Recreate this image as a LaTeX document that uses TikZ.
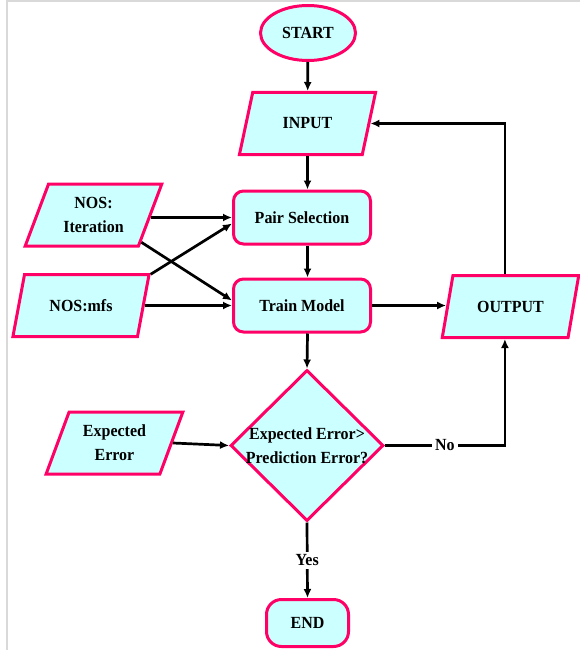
\documentclass[tikz,border=0pt]{standalone}
\usepackage{fontspec}
\setmainfont{Liberation Serif}[FakeStretch=0.94]
\usetikzlibrary{shapes.geometric,arrows.meta,calc}
\definecolor{cfill}{HTML}{CCFFFF}
\definecolor{pline}{HTML}{FF0066}
\definecolor{frame}{HTML}{D9D9D9}
\tikzset{
  base/.style={draw=pline, fill=cfill, line width=3pt, inner sep=2pt,
    font=\fontsize{17}{24}\selectfont\bfseries, align=center},
  io/.style={base, trapezium, trapezium left angle=67, trapezium right angle=113,
    trapezium stretches=true, minimum width=137pt, minimum height=62pt},
  proc/.style={base, rectangle, rounded corners=10pt, minimum width=137pt, minimum height=53pt},
  term/.style={base, ellipse, minimum width=95pt, minimum height=55pt},
  stop/.style={base, rectangle, rounded corners=15pt, minimum width=82pt, minimum height=47pt},
  dia/.style={base, diamond, minimum width=153pt, minimum height=151pt, inner sep=0pt},
  txt/.style={font=\fontsize{17}{24}\selectfont\bfseries, align=center, inner sep=1pt},
  arr/.style={line width=2.7pt, -{Latex[length=9pt,width=8pt]}},
  ln/.style={line width=2.7pt}
}
\begin{document}
\begin{tikzpicture}[x=1pt,y=-1pt]
\useasboundingbox (0,0) rectangle (580,650);
\coordinate (fa) at (7,650);
\coordinate (fb) at (7,1.5);
\coordinate (fc) at (580,1.5);
\draw[frame, line width=2pt] (fa) -- (fb) -- (fc);

\node[term] (start) at (308,33) {START};
\node[io] (input) at (307.5,123.5) {INPUT};
\node[io] (iter) at (93.5,215) {NOS:\\Iteration};
\node[io] (mfs) at (81,305.5) {NOS:mfs};
\node[proc] (pair) at (302,217.5) {Pair Selection};
\node[proc] (train) at (302,305.5) {Train Model};
\node[io] (out) at (510.5,306.5) {OUTPUT};
\node[io] (exp) at (114.5,443) {Expected\\Error};
\node[dia] (dec) at (307,445.5) {};
\node[txt] (dectext) at (dec) {Expected Error>\\Prediction Error?};
\node[stop] (endn) at (307.5,623) {END};

\draw[arr] (start) -- (input);
\draw[arr] (input.south) -- (input.south |- pair.north);
\draw[arr] (input.south |- pair.south) -- (input.south |- train.north);
\draw[arr] (input.south |- train.south) -- (dec.north);
\draw[arr] ($(iter.east)+(-1,2.5)$) -- ($(iter.east -| pair.west)+(0,2.5)$);
\draw[arr] ($(iter.bottom right corner)!0.08!(iter.top right corner)$) -- ($(train.west)+(0,-5)$);
\draw[arr] ($(mfs.top right corner)!0.02!(mfs.bottom right corner)$) -- ($(pair.west)+(0,6)$);
\draw[arr] (mfs.east) -- (mfs.east -| train.west);
\draw[arr] (train.east) -- (train.east -| out.west);
\draw[arr] (exp.east) -- (dec.west);
\draw[arr] (out.bottom side |- out.north) |- (input.east);
\draw[arr] (dec.east) -| (out.bottom side) node[pos=0.25, txt, fill=white, inner sep=3pt] {No};
\draw[arr] (dec.south) -- (endn.north) node[midway, txt, fill=white, inner sep=3pt] {Yes};
\end{tikzpicture}
\end{document}
